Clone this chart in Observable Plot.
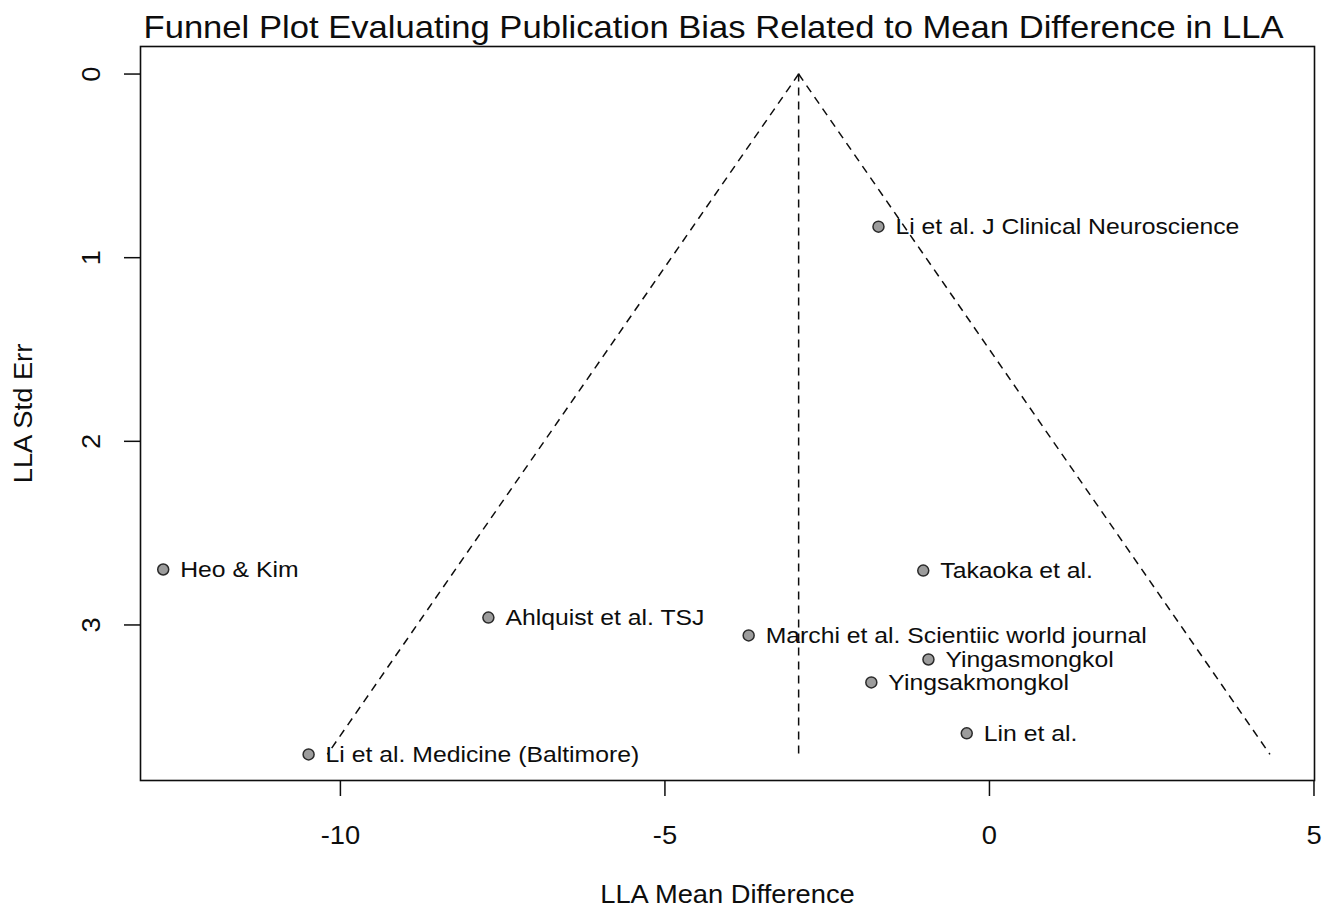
<!DOCTYPE html>
<html>
<head>
<meta charset="utf-8">
<script src="https://cdn.jsdelivr.net/npm/d3@7"></script>
<script src="https://cdn.jsdelivr.net/npm/@observablehq/plot@0.6"></script>
<style>
  body { margin: 0; background: #fff; }
  #chart svg { display: block; }
</style>
</head>
<body>
<div id="chart"></div>
<script>
// Studies in the LLA meta-analysis: mean difference and its standard error
const studies = [
  "Li et al. J Clinical Neuroscience",
  "Heo & Kim",
  "Takaoka et al.",
  "Ahlquist et al. TSJ",
  "Marchi et al. Scientiic world journal",
  "Yingasmongkol",
  "Yingsakmongkol",
  "Lin et al.",
  "Li et al. Medicine (Baltimore)"
];
const meanDiff = [-1.71, -12.73, -1.02, -7.72, -3.71, -0.94, -1.82, -0.35, -10.49];
const stdErr   = [0.831, 2.698, 2.704, 2.96, 3.057, 3.188, 3.313, 3.59, 3.705];

// Pooled estimate (funnel apex) and the 95% pseudo-confidence multiplier
const pooledMD = -2.94;
const zCrit = 1.96;

const xTicks = [-10, -5, 0, 5];
const yTicks = [0, 1, 2, 3];

const titleText = "Funnel Plot Evaluating Publication Bias Related to Mean Difference in LLA";
const xLabel = "LLA Mean Difference";
const yLabel = "LLA Std Err";

const points = studies.map((study, i) => ({study, md: meanDiff[i], se: stdErr[i]}));
const seMax = d3.max(stdErr);
const funnelSides = [-1, 1].map(side => ({
  x1: pooledMD, y1: 0,
  x2: pooledMD + side * zCrit * seMax, y2: seMax
}));

const ink = "#0d0d0d";
const dash = "8,6";

// font sizes of each kind of text, also used to find them again afterwards
const fsLabel = 22.5, fsTick = 26, fsAxisTitle = 26, fsTitle = 32;

const chart = Plot.plot({
  width: 1325,
  height: 911,
  marginTop: 46,
  marginLeft: 140,
  marginRight: 11,
  marginBottom: 131,
  style: {
    fontFamily: "'Liberation Sans', Arial, Helvetica, sans-serif",
    color: ink,
    background: "#fff",
    overflow: "visible"
  },
  x: {domain: [-13.08, 5.008]},
  y: {domain: [-0.150, 3.847], reverse: true},
  marks: [
    Plot.frame({stroke: ink, strokeWidth: 1.6}),

    // funnel: pseudo confidence limits and the pooled-estimate line
    Plot.link(funnelSides, {
      x1: "x1", y1: "y1", x2: "x2", y2: "y2",
      stroke: ink, strokeWidth: 1.5, strokeDasharray: dash
    }),
    Plot.ruleX([pooledMD], {
      y1: 0, y2: seMax, stroke: ink, strokeWidth: 1.5, strokeDasharray: dash
    }),

    // studies
    Plot.dot(points, {
      x: "md", y: "se", r: 5.5,
      fill: "#9c9c9c", stroke: "#2a2a2a", strokeWidth: 1.5
    }),
    Plot.text(points, {
      x: "md", y: "se", text: "study",
      dx: 17, textAnchor: "start", lineAnchor: "middle",
      fontSize: fsLabel, fill: ink
    }),

    // x axis
    Plot.axisX(xTicks, {
      tickSize: 16, tickPadding: 29, fontSize: fsTick,
      stroke: ink, strokeWidth: 1.5, label: null,
      tickFormat: d => d < 0 ? "-" + Math.abs(d) : String(d)
    }),

    // y axis: ticks, then labels turned parallel to the axis
    Plot.axisY(yTicks, {
      tickSize: 16, stroke: ink, strokeWidth: 1.5, label: null,
      tickFormat: () => ""
    }),
    Plot.text(yTicks, {
      y: d => d, text: d => String(d),
      frameAnchor: "left", dx: -49, rotate: -90,
      textAnchor: "middle", lineAnchor: "middle",
      fontSize: fsTick, fill: ink
    }),

    // axis titles
    Plot.text([xLabel], {
      frameAnchor: "bottom", dy: 114, lineAnchor: "middle",
      fontSize: fsAxisTitle, fill: ink
    }),
    Plot.text([yLabel], {
      frameAnchor: "left", dx: -117, rotate: -90,
      textAnchor: "middle", lineAnchor: "middle",
      fontSize: fsAxisTitle, fill: ink
    }),

    // main title
    Plot.text([titleText], {
      frameAnchor: "top-left", dx: 3, dy: -9,
      textAnchor: "start", lineAnchor: "bottom",
      fontSize: fsTitle, fill: ink
    })
  ]
});

document.getElementById("chart").appendChild(chart);

// The lettering is set a little wider than the face's natural proportions
const widthFactor = new Map([[fsLabel, 1.10], [fsAxisTitle, 1.05]]);
chart.querySelectorAll("text").forEach(t => {
  if (!t.textContent) return;
  const fs = parseFloat(getComputedStyle(t).fontSize);
  const w = t.getComputedTextLength();
  if (!w) return;
  let target = null;
  if (t.textContent === titleText) target = 1140;
  else if (widthFactor.has(fs)) target = w * widthFactor.get(fs);
  if (target) {
    t.setAttribute("textLength", target.toFixed(1));
    t.setAttribute("lengthAdjust", "spacingAndGlyphs");
  }
});
</script>
</body>
</html>
